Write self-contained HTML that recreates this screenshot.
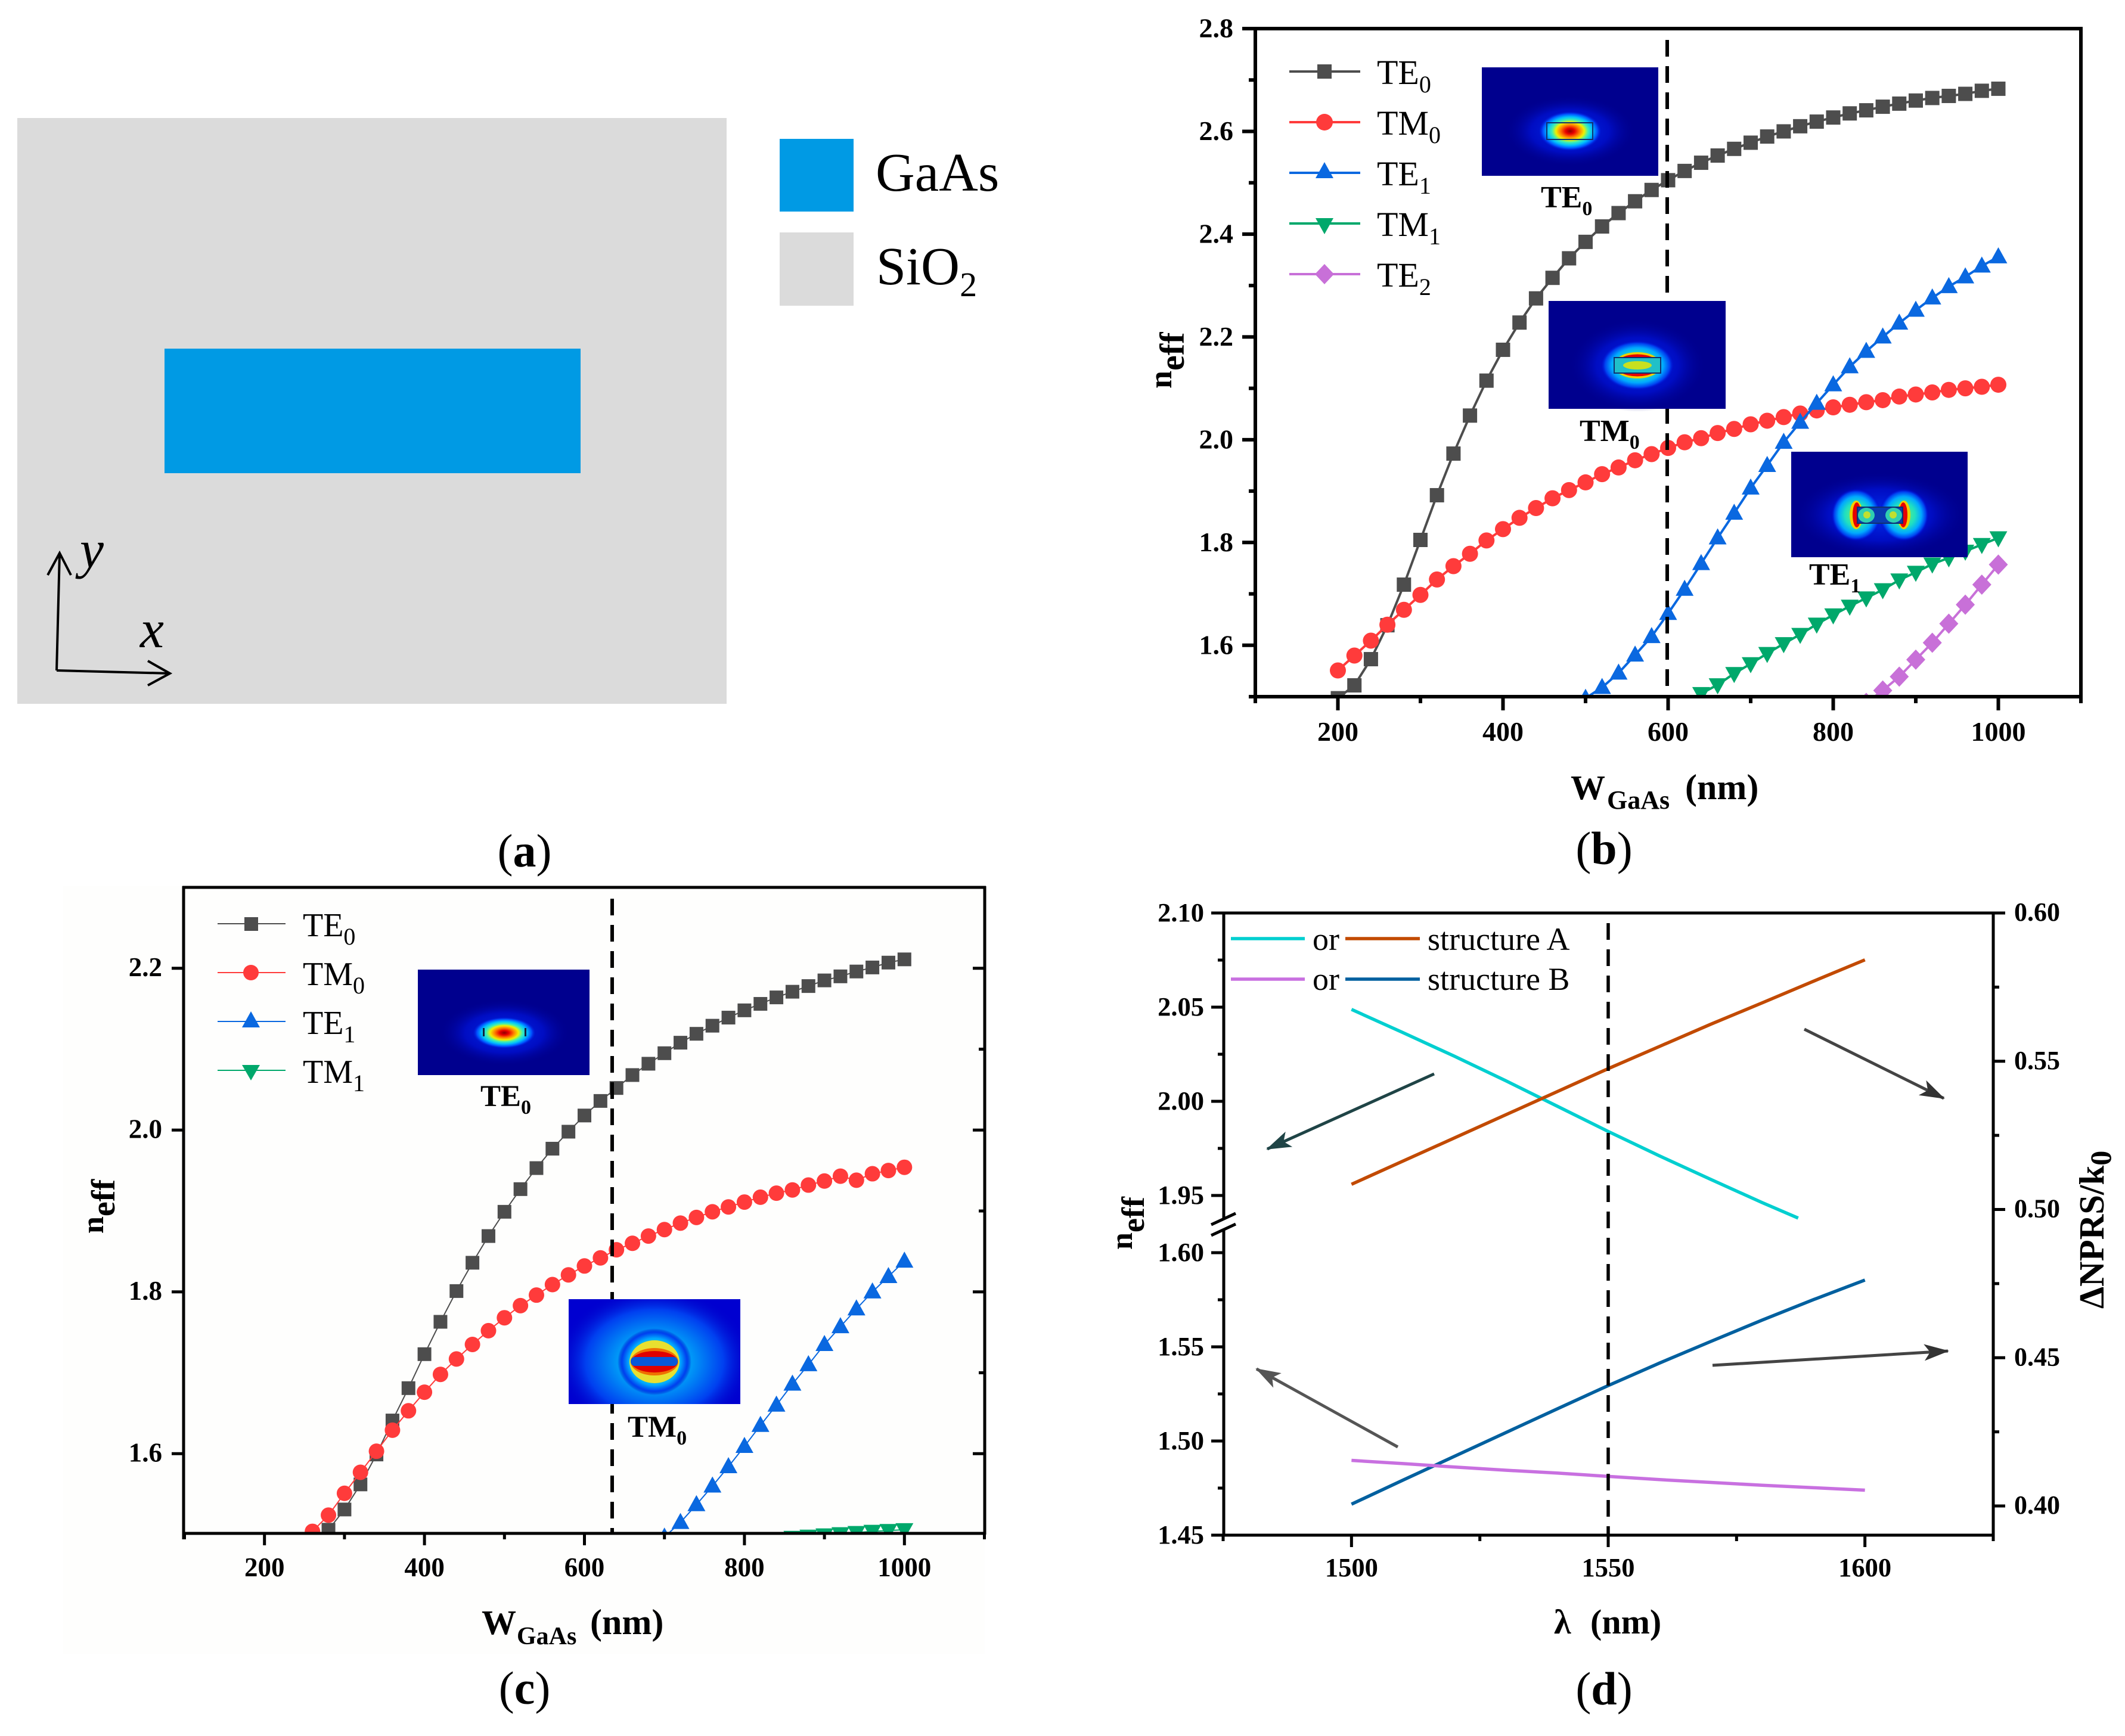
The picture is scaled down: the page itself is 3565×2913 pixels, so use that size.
<!DOCTYPE html>
<html lang="en">
<head>
<meta charset="utf-8">
<title>GaAs waveguide structure and effective index charts</title>
<style>
html,body{margin:0;padding:0;background:#fff}
svg{display:block}
text{font-family:"Liberation Serif","DejaVu Serif",serif;fill:#000}
.b{font-weight:bold}
</style>
</head>
<body>
<svg id="figure" xmlns="http://www.w3.org/2000/svg" width="3565" height="2913" viewBox="0 0 3565 2913">
<defs>
<radialGradient id="jet"><stop offset="0" stop-color="#8b0000"/><stop offset=".14" stop-color="#e80000"/><stop offset=".3" stop-color="#ff8000"/><stop offset=".44" stop-color="#f0f000"/><stop offset=".56" stop-color="#40f0b0"/><stop offset=".7" stop-color="#00c0ff"/><stop offset=".85" stop-color="#0050ff"/><stop offset="1" stop-color="#0000c0" stop-opacity="0"/></radialGradient>
<radialGradient id="soft"><stop offset="0" stop-color="#70f070"/><stop offset=".45" stop-color="#20e0c0"/><stop offset=".7" stop-color="#00a8ff"/><stop offset=".88" stop-color="#0040f0"/><stop offset="1" stop-color="#0000c8" stop-opacity="0"/></radialGradient>
<radialGradient id="halo"><stop offset="0" stop-color="#0030f0"/><stop offset=".6" stop-color="#0010d0" stop-opacity=".8"/><stop offset="1" stop-color="#000090" stop-opacity="0"/></radialGradient>
<radialGradient id="haloWide"><stop offset="0" stop-color="#00d0c0"/><stop offset=".35" stop-color="#00a0f8"/><stop offset=".7" stop-color="#0040f0"/><stop offset="1" stop-color="#0000c8" stop-opacity="0"/></radialGradient>
<marker id="headDark" markerUnits="userSpaceOnUse" markerWidth="44" markerHeight="30" refX="40" refY="15" orient="auto"><path d="M0,1 L42,15 L0,29 L10,15 Z" fill="#333"/></marker>
<marker id="headTeal" markerUnits="userSpaceOnUse" markerWidth="44" markerHeight="30" refX="40" refY="15" orient="auto"><path d="M0,1 L42,15 L0,29 L10,15 Z" fill="#1f4446"/></marker>
<marker id="headGrey" markerUnits="userSpaceOnUse" markerWidth="44" markerHeight="30" refX="40" refY="15" orient="auto"><path d="M0,1 L42,15 L0,29 L10,15 Z" fill="#555"/></marker>
<clipPath id="clipB"><rect x="2106" y="48" width="1385" height="1121"/></clipPath>
<clipPath id="clipC"><rect x="308" y="1489" width="1344" height="1084"/></clipPath>
<clipPath id="insetCT"><rect x="954" y="2180" width="288" height="176"/></clipPath>
</defs>

<!-- Panel a -->
<g>
<rect x="29" y="198" width="1190" height="983" fill="#dbdbdb"/>
<rect x="276" y="585" width="698" height="209" fill="#009ae4"/>
<rect x="1308" y="233" width="124" height="122" fill="#009ae4"/>
<rect x="1308" y="390" width="124" height="123" fill="#dbdbdb"/>
<text x="1469" y="320" font-size="91">GaAs</text>
<text x="1470" y="477" font-size="90">SiO<tspan font-size="58" dy="20">2</tspan></text>
<g fill="none" stroke="#000" stroke-width="4">
<path d="M95,1125 L100,928 M80,965 L100,928 L119,965"/>
<path d="M95,1125 L285,1130 M248,1109 L285,1130 L248,1150"/>
</g>
<text x="134" y="952" font-size="90" font-style="italic">y</text>
<text x="235" y="1086" font-size="90" font-style="italic">x</text>
<text x="880" y="1454" font-size="78" text-anchor="middle">(<tspan class="b">a</tspan>)</text>
</g>

<!-- Panel c background -->
<rect x="106" y="1487" width="1546" height="1288" fill="#fefefd"/>

<!-- Panel b -->
<g>
<g id="b-series" clip-path="url(#clipB)"></g>
<line x1="2797" y1="67" x2="2797" y2="1169" stroke="#000" stroke-width="6" stroke-dasharray="28 16"/>
<g id="b-axes"></g>

<g>
<g><line x1="2163" y1="120" x2="2282" y2="120" stroke="#4d4d4d" stroke-width="4"/><rect x="2210" y="108" width="24" height="24" fill="#4d4d4d"/><text x="2310" y="141" font-size="58">TE<tspan font-size="40" dy="14">0</tspan></text></g>
<g><line x1="2163" y1="205" x2="2282" y2="205" stroke="#ff3b3b" stroke-width="4"/><circle cx="2222" cy="205" r="14" fill="#ff3b3b"/><text x="2310" y="226" font-size="58">TM<tspan font-size="40" dy="14">0</tspan></text></g>
<g><line x1="2163" y1="290" x2="2282" y2="290" stroke="#0a68e0" stroke-width="4"/><polygon points="2222,272 2207,299 2237,299" fill="#0a68e0"/><text x="2310" y="311" font-size="58">TE<tspan font-size="40" dy="14">1</tspan></text></g>
<g><line x1="2163" y1="375" x2="2282" y2="375" stroke="#00a86b" stroke-width="4"/><polygon points="2222,393 2207,366 2237,366" fill="#00a86b"/><text x="2310" y="396" font-size="58">TM<tspan font-size="40" dy="14">1</tspan></text></g>
<g><line x1="2163" y1="460" x2="2282" y2="460" stroke="#c870d8" stroke-width="4"/><polygon points="2222,443 2238,460 2222,477 2206,460" fill="#c870d8"/><text x="2310" y="481" font-size="58">TE<tspan font-size="40" dy="14">2</tspan></text></g>
</g>

<g>
<rect x="2486" y="113" width="296" height="182" fill="#00008e"/>
<ellipse cx="2634" cy="220" rx="110" ry="60" fill="url(#halo)"/>
<ellipse cx="2634" cy="220" rx="54" ry="34" fill="url(#jet)"/>
<rect x="2595" y="206" width="77" height="28" fill="none" stroke="#103070" stroke-width="2"/>
<text class="b" x="2585" y="348" font-size="52">TE<tspan font-size="34" dy="13">0</tspan></text>
</g>
<g>
<rect x="2598" y="505" width="297" height="181" fill="#00008e"/>
<ellipse cx="2747" cy="613" rx="115" ry="78" fill="url(#halo)"/>
<ellipse cx="2747" cy="613" rx="62" ry="42" fill="url(#soft)"/>
<ellipse cx="2747" cy="613" rx="40" ry="22" fill="#f0d000"/>
<ellipse cx="2747" cy="613" rx="37" ry="18.5" fill="#e80000"/>
<rect x="2708" y="600" width="78" height="26" fill="#20c0c8" stroke="#103070" stroke-width="2"/>
<ellipse cx="2747" cy="613" rx="24" ry="7" fill="#c8e020"/>
<text class="b" x="2650" y="740" font-size="52">TM<tspan font-size="34" dy="13">0</tspan></text>
</g>
<g>
<rect x="3005" y="758" width="296" height="177" fill="#00008e"/>
<ellipse cx="3154" cy="864" rx="145" ry="72" fill="url(#halo)"/>
<ellipse cx="3114" cy="864" rx="42" ry="44" fill="url(#soft)"/>
<ellipse cx="3194" cy="864" rx="42" ry="44" fill="url(#soft)"/>
<ellipse cx="3114" cy="864" rx="11" ry="24" fill="#f0d000"/>
<ellipse cx="3194" cy="864" rx="11" ry="24" fill="#f0d000"/>
<ellipse cx="3115" cy="864" rx="7" ry="21" fill="#e80000"/>
<ellipse cx="3193" cy="864" rx="7" ry="21" fill="#e80000"/>
<rect x="3116" y="851" width="76" height="27" fill="#0a3cb0" stroke="#103070" stroke-width="2"/>
<ellipse cx="3131" cy="864.5" rx="14" ry="12.5" fill="#30d0b0"/><ellipse cx="3177" cy="864.5" rx="14" ry="12.5" fill="#30d0b0"/>
<circle cx="3132" cy="864" r="6" fill="#c0e030"/><circle cx="3176" cy="864" r="6" fill="#c0e030"/>
<text class="b" x="3035" y="981" font-size="52">TE<tspan font-size="34" dy="13">1</tspan></text>
</g>

<text class="b" transform="translate(1965,652) rotate(-90)" font-size="54">n<tspan font-size="58" dy="21">eff</tspan></text>
<text class="b" y="1341" font-size="58"><tspan x="2635">W</tspan><tspan x="2696" y="1357" font-size="44">GaAs</tspan><tspan x="2827" y="1341" font-size="60">(nm)</tspan></text>
<text x="2691" y="1450" font-size="78" text-anchor="middle">(<tspan class="b">b</tspan>)</text>
</g>

<!-- Panel c -->
<g>
<g id="c-series" clip-path="url(#clipC)"></g>
<line x1="1027" y1="1508" x2="1027" y2="2573" stroke="#000" stroke-width="6" stroke-dasharray="28 16"/>
<g id="c-axes"></g>

<g>
<g><line x1="365" y1="1550" x2="479" y2="1550" stroke="#4d4d4d" stroke-width="2"/><rect x="410" y="1539" width="23" height="23" fill="#4d4d4d"/><text x="508" y="1571" font-size="56">TE<tspan font-size="40" dy="14">0</tspan></text></g>
<g><line x1="365" y1="1632" x2="479" y2="1632" stroke="#ff3b3b" stroke-width="2"/><circle cx="421" cy="1632" r="13" fill="#ff3b3b"/><text x="508" y="1653" font-size="56">TM<tspan font-size="40" dy="14">0</tspan></text></g>
<g><line x1="365" y1="1714" x2="479" y2="1714" stroke="#0a68e0" stroke-width="2"/><polygon points="421,1697 406,1724 436,1724" fill="#0a68e0"/><text x="508" y="1735" font-size="56">TE<tspan font-size="40" dy="14">1</tspan></text></g>
<g><line x1="365" y1="1796" x2="479" y2="1796" stroke="#00a86b" stroke-width="2"/><polygon points="421,1813 406,1787 436,1787" fill="#00a86b"/><text x="508" y="1817" font-size="56">TM<tspan font-size="40" dy="14">1</tspan></text></g>
</g>

<g>
<rect x="701" y="1627" width="288" height="177" fill="#00008e"/>
<ellipse cx="846" cy="1733" rx="110" ry="56" fill="url(#halo)"/>
<ellipse cx="846" cy="1733" rx="54" ry="27" fill="url(#jet)"/>
<rect x="810" y="1725" width="3" height="14" fill="#102040"/><rect x="880" y="1725" width="3" height="14" fill="#102040"/>
<text class="b" x="806" y="1856" font-size="51">TE<tspan font-size="34" dy="13">0</tspan></text>
</g>
<g>
<g clip-path="url(#insetCT)">
<rect x="954" y="2180" width="288" height="176" fill="#0000d0"/>
<ellipse cx="1098" cy="2285" rx="165" ry="125" fill="url(#haloWide)"/>
<ellipse cx="1098" cy="2285" rx="62" ry="56" fill="url(#soft)"/>
<ellipse cx="1098" cy="2285" rx="42" ry="36" fill="#e8e030"/>
<ellipse cx="1098" cy="2285" rx="40" ry="23" fill="#f07000"/>
<ellipse cx="1098" cy="2285" rx="39" ry="18" fill="#e00000"/>
<rect x="1058" y="2277" width="79" height="15" rx="7" fill="#0858d8"/>
</g>
<text class="b" x="1053" y="2411" font-size="51">TM<tspan font-size="34" dy="13">0</tspan></text>
</g>

<text class="b" transform="translate(173,2070) rotate(-90)" font-size="52">n<tspan font-size="56" dy="19">eff</tspan></text>
<text class="b" y="2742" font-size="58"><tspan x="808">W</tspan><tspan x="867" y="2759" font-size="42">GaAs</tspan><tspan x="990" y="2742" font-size="60">(nm)</tspan></text>
<text x="880" y="2859" font-size="78" text-anchor="middle">(<tspan class="b">c</tspan>)</text>
</g>

<!-- Panel d -->
<g>
<g id="d-series"></g>
<line x1="2698" y1="1549" x2="2698" y2="2576" stroke="#000" stroke-width="5.5" stroke-dasharray="28 16"/>
<g id="d-axes"></g>

<g>
<g>
<line x1="2065" y1="1575" x2="2189" y2="1575" stroke="#00cfd0" stroke-width="5.5"/>
<text x="2202" y="1594" font-size="54">or</text>
<line x1="2257" y1="1575" x2="2382" y2="1575" stroke="#c24a00" stroke-width="5.5"/>
<text x="2395" y="1594" font-size="54">structure A</text>
</g>
<g>
<line x1="2065" y1="1643" x2="2189" y2="1643" stroke="#c870e0" stroke-width="5.5"/>
<text x="2202" y="1661" font-size="54">or</text>
<line x1="2257" y1="1643" x2="2382" y2="1643" stroke="#00609f" stroke-width="5.5"/>
<text x="2395" y="1661" font-size="54">structure B</text>
</g>
</g>

<line x1="2406" y1="1802" x2="2126" y2="1928" stroke="#1f4446" stroke-width="5" marker-end="url(#headTeal)"/>
<line x1="3027" y1="1727" x2="3261" y2="1843" stroke="#444" stroke-width="5" marker-end="url(#headDark)"/>
<line x1="2345" y1="2428" x2="2108" y2="2297" stroke="#555" stroke-width="5" marker-end="url(#headGrey)"/>
<line x1="2873" y1="2291" x2="3268" y2="2267" stroke="#444" stroke-width="5" marker-end="url(#headDark)"/>

<text class="b" transform="translate(1899,2097) rotate(-90)" font-size="52">n<tspan font-size="54" dy="20">eff</tspan></text>
<text class="b" transform="translate(3529,2196) rotate(-90)" font-size="59">ΔNPRS/k<tspan font-size="50" dy="12">0</tspan></text>
<text class="b" y="2741" font-size="58"><tspan x="2607">λ</tspan><tspan x="2668">(nm)</tspan></text>
<text x="2691" y="2860" font-size="78" text-anchor="middle">(<tspan class="b">d</tspan>)</text>
</g>
</svg>

<script>
// ---------- Panel b data ----------
const bTe0Widths = [200,220,240,260,280,300,320,340,360,380,400,420,440,460,480,500,520,540,560,580,600,620,640,660,680,700,720,740,760,780,800,820,840,860,880,900,920,940,960,980,1000];
const bTe0Values = [1.497,1.522,1.573,1.639,1.718,1.805,1.892,1.973,2.047,2.115,2.175,2.228,2.275,2.315,2.353,2.385,2.415,2.441,2.464,2.486,2.505,2.523,2.539,2.553,2.566,2.578,2.59,2.6,2.61,2.619,2.627,2.635,2.641,2.648,2.654,2.66,2.665,2.669,2.673,2.679,2.683];
const bTm0Widths = [200,220,240,260,280,300,320,340,360,380,400,420,440,460,480,500,520,540,560,580,600,620,640,660,680,700,720,740,760,780,800,820,840,860,880,900,920,940,960,980,1000];
const bTm0Values = [1.551,1.58,1.609,1.64,1.669,1.698,1.728,1.754,1.778,1.804,1.826,1.848,1.867,1.886,1.902,1.917,1.933,1.946,1.96,1.972,1.984,1.995,2.003,2.013,2.021,2.03,2.037,2.044,2.051,2.057,2.063,2.068,2.073,2.077,2.084,2.088,2.092,2.097,2.1,2.103,2.107];
const bTe1Widths = [500,520,540,560,580,600,620,640,660,680,700,720,740,760,780,800,820,840,860,880,900,920,940,960,980,1000];
const bTe1Values = [1.497,1.518,1.546,1.581,1.617,1.662,1.709,1.759,1.809,1.857,1.906,1.95,1.995,2.034,2.071,2.107,2.142,2.172,2.2,2.227,2.252,2.276,2.298,2.317,2.338,2.356];
const bTm1Widths = [640,660,680,700,720,740,760,780,800,820,840,860,880,900,920,940,960,980,1000];
const bTm1Values = [1.506,1.523,1.545,1.564,1.584,1.603,1.621,1.641,1.659,1.676,1.692,1.708,1.727,1.742,1.758,1.77,1.783,1.796,1.809];
const bTe2Widths = [840,860,880,900,920,940,960,980,1000];
const bTe2Values = [1.488,1.512,1.539,1.572,1.605,1.642,1.679,1.718,1.757];
const bXMajorTicks = ["200","400","600","800","1000"];
const bXMinorTicks = [100,300,500,700,900,1100];
const bYMajorTicks = ["1.6","1.8","2.0","2.2","2.4","2.6","2.8"];
const bYMinorTicks = [1.5,1.7,1.9,2.1,2.3,2.5,2.7];

// ---------- Panel c data ----------
const cTe0Widths = [280,300,320,340,360,380,400,420,440,460,480,500,520,540,560,580,600,620,640,660,680,700,720,740,760,780,800,820,840,860,880,900,920,940,960,980,1000];
const cTe0Values = [1.506,1.531,1.562,1.599,1.641,1.681,1.723,1.763,1.801,1.836,1.869,1.899,1.927,1.953,1.977,1.998,2.018,2.036,2.052,2.068,2.082,2.095,2.108,2.119,2.129,2.139,2.148,2.156,2.164,2.171,2.178,2.185,2.19,2.196,2.201,2.207,2.211];
const cTm0Widths = [240,260,280,300,320,340,360,380,400,420,440,460,480,500,520,540,560,580,600,620,640,660,680,700,720,740,760,780,800,820,840,860,880,900,920,940,960,980,1000];
const cTm0Values = [1.493,1.504,1.524,1.551,1.577,1.603,1.629,1.653,1.676,1.698,1.717,1.735,1.752,1.768,1.783,1.796,1.809,1.821,1.832,1.842,1.852,1.86,1.869,1.877,1.885,1.892,1.899,1.905,1.911,1.917,1.922,1.926,1.932,1.937,1.943,1.938,1.946,1.95,1.954];
const cTe1Widths = [700,720,740,760,780,800,820,840,860,880,900,920,940,960,980,1000];
const cTe1Values = [1.497,1.515,1.537,1.56,1.584,1.609,1.635,1.66,1.686,1.71,1.735,1.757,1.779,1.8,1.819,1.838];
const cTm1Widths = [780,800,820,840,860,880,900,920,940,960,980,1000];
const cTm1Values = [1.49,1.492,1.4935,1.495,1.4965,1.498,1.4995,1.501,1.5025,1.504,1.505,1.506];
const cXMajorTicks = ["200","400","600","800","1000"];
const cXMinorTicks = [100,300,500,700,900,1100];
const cYMajorTicks = ["1.6","1.8","2.0","2.2"];
const cYRightMinorTicks = [1.7,1.9,2.1];

// ---------- Panel d data ----------
const dCyanWavelengths = [1500,1510,1520,1530,1540,1550,1560,1570,1580,1587];
const dCyanValues = [2.0488,2.0365,2.024,2.011,1.9975,1.984,1.971,1.9585,1.9462,1.938];
const dPurpleWavelengths = [1500,1510,1520,1530,1540,1550,1560,1570,1580,1590,1600];
const dPurpleValues = [1.4897,1.488,1.4862,1.4845,1.483,1.4812,1.4795,1.478,1.4765,1.4752,1.4739];
const dOrangeWavelengths = [1500,1510,1520,1530,1540,1550,1560,1570,1580,1590,1600];
const dOrangeValues = [0.5085,0.5163,0.5241,0.5319,0.5397,0.5475,0.555,0.5625,0.5697,0.577,0.5842];
const dBlueWavelengths = [1500,1510,1520,1530,1540,1550,1560,1570,1580,1590,1600];
const dBlueValues = [0.4006,0.4087,0.4167,0.4247,0.4327,0.4406,0.4482,0.4555,0.4627,0.4696,0.4762];
const dXMajorTicks = ["1500","1550","1600"];
const dXMinorTicks = [1475,1525,1575,1625];
const dLeftMajorTicks = ["2.10","2.05","2.00","1.95","1.60","1.55","1.50","1.45"];
const dLeftMinorTicks = [2.075,2.025,1.975,1.575,1.525,1.475];
const dRightMajorTicks = ["0.60","0.55","0.50","0.45","0.40"];
const dRightMinorTicks = [0.575,0.525,0.475,0.425];

const NS = "http://www.w3.org/2000/svg";
function make(tag, parent, props) {
  const node = document.createElementNS(NS, tag);
  for (const k in props) node.setAttribute(k, props[k]);
  parent.appendChild(node);
  return node;
}
function scale(d0, d1, r0, r1) {
  return function (v) { return r0 + (v - d0) / (d1 - d0) * (r1 - r0); };
}
function drawMarker(shape, parent, x, y, size, color) {
  const s = size / 2;
  if (shape === "square") return make("rect", parent, {x: x - s, y: y - s, width: size, height: size, fill: color});
  if (shape === "circle") return make("circle", parent, {cx: x, cy: y, r: s + 1.5, fill: color});
  let pts;
  if (shape === "up") pts = [[x, y - s - 4], [x - s - 3, y + s - 1], [x + s + 3, y + s - 1]];
  else if (shape === "down") pts = [[x, y + s + 4], [x - s - 3, y - s + 1], [x + s + 3, y - s + 1]];
  else pts = [[x, y - s - 5], [x + s + 4, y], [x, y + s + 5], [x - s - 4, y]];
  return make("polygon", parent, {points: pts.map(function (p) { return p.join(","); }).join(" "), fill: color});
}
function drawSeries(parent, name, xs, ys, xScale, yScale, color, lineWidth, shape, size) {
  const pts = xs.map(function (v, i) { return xScale(v) + "," + yScale(ys[i]); }).join(" ");
  const line = make("polyline", parent, {points: pts, fill: "none", stroke: color, "stroke-width": lineWidth, "stroke-linejoin": "round"});
  
  
  if (!shape) return;
  xs.forEach(function (v, i) {
    const m = drawMarker(shape, parent, xScale(v), yScale(ys[i]), size, color);
    
    
  });
}
function tickLine(parent, x1, y1, x2, y2, w) {
  const t = make("line", parent, {x1: x1, y1: y1, x2: x2, y2: y2, stroke: "#000", "stroke-width": w});
  
  
}
function tickText(parent, x, y, str, anchor, size) {
  const t = make("text", parent, {x: x, y: y, "font-size": size, "font-weight": "bold", "text-anchor": anchor});
  t.textContent = str;
  
  
}
function axisLine(parent, x1, y1, x2, y2, w) {
  const a = make("line", parent, {x1: x1, y1: y1, x2: x2, y2: y2, stroke: "#000", "stroke-width": w});
  
  
}

// ---------- Panel b ----------
const bX = scale(100, 1100, 2106, 3491);
const bY = scale(1.5, 2.8, 1169, 48);
const bSeries = document.getElementById("b-series");
drawSeries(bSeries, "te0", bTe0Widths, bTe0Values, bX, bY, "#4d4d4d", 4, "square", 24);
drawSeries(bSeries, "tm0", bTm0Widths, bTm0Values, bX, bY, "#ff3b3b", 4, "circle", 24);
drawSeries(bSeries, "te1", bTe1Widths, bTe1Values, bX, bY, "#0a68e0", 4, "up", 24);
drawSeries(bSeries, "tm1", bTm1Widths, bTm1Values, bX, bY, "#00a86b", 4, "down", 24);
drawSeries(bSeries, "te2", bTe2Widths, bTe2Values, bX, bY, "#c870d8", 4, "diamond", 24);
const bAxes = document.getElementById("b-axes");
axisLine(bAxes, 2103, 48, 3494, 48, 6);
axisLine(bAxes, 3491, 45, 3491, 1172, 6);
axisLine(bAxes, 2106, 45, 2106, 1172, 6);
axisLine(bAxes, 2095, 1169, 3494, 1169, 6);
bXMajorTicks.forEach(function (t) {
  tickLine(bAxes, bX(+t), 1169, bX(+t), 1192, 6);
  tickText(bAxes, bX(+t), 1243, t, "middle", 46);
});
bXMinorTicks.forEach(function (v) { tickLine(bAxes, bX(v), 1169, bX(v), 1180, 6); });
bYMajorTicks.forEach(function (t) {
  tickLine(bAxes, 2084, bY(+t), 2106, bY(+t), 6);
  tickText(bAxes, 2069, bY(+t) + 14.5, t, "end", 46);
});
bYMinorTicks.forEach(function (v) { tickLine(bAxes, 2095, bY(v), 2106, bY(v), 6); });

// ---------- Panel c ----------
const cX = scale(100, 1100, 309.5, 1651.5);
const cY = scale(1.5, 2.3, 2575, 1489);
const cSeries = document.getElementById("c-series");
drawSeries(cSeries, "te0", cTe0Widths, cTe0Values, cX, cY, "#4d4d4d", 2, "square", 23);
drawSeries(cSeries, "tm0", cTm0Widths, cTm0Values, cX, cY, "#ff3b3b", 2, "circle", 23);
drawSeries(cSeries, "te1", cTe1Widths, cTe1Values, cX, cY, "#0a68e0", 2, "up", 24);
drawSeries(cSeries, "tm1", cTm1Widths, cTm1Values, cX, cY, "#00a86b", 2, "down", 24);
const cAxes = document.getElementById("c-axes");
axisLine(cAxes, 306, 1489, 1654, 1489, 5);
axisLine(cAxes, 1652, 1487, 1652, 2575, 5);
axisLine(cAxes, 308, 1487, 308, 2583, 5);
axisLine(cAxes, 306, 2573, 1654, 2573, 5);
cXMajorTicks.forEach(function (t) {
  tickLine(cAxes, cX(+t), 2573, cX(+t), 2593, 5);
  tickText(cAxes, cX(+t), 2645, t, "middle", 45);
});
cXMinorTicks.forEach(function (v) { tickLine(cAxes, cX(v), 2573, cX(v), 2583, 5); });
cYMajorTicks.forEach(function (t) {
  tickLine(cAxes, 288, cY(+t), 308, cY(+t), 5);
  tickLine(cAxes, 1632, cY(+t), 1652, cY(+t), 5);
  tickText(cAxes, 272, cY(+t) + 13, t, "end", 45);
});
cYRightMinorTicks.forEach(function (v) { tickLine(cAxes, 1642, cY(v), 1652, cY(v), 5); });

// ---------- Panel d ----------
const dX = scale(1475, 1625, 2052, 3344);
const dLeftUpper = scale(1.95, 2.10, 2006, 1532);
const dLeftLower = scale(1.45, 1.60, 2576, 2102);
function dLeft(v) { return v > 1.8 ? dLeftUpper(v) : dLeftLower(v); }
const dRight = scale(0.40, 0.60, 2527, 1532);
const dSeries = document.getElementById("d-series");
drawSeries(dSeries, "cyan", dCyanWavelengths, dCyanValues, dX, dLeft, "#00cfd0", 5.5);
drawSeries(dSeries, "orange", dOrangeWavelengths, dOrangeValues, dX, dRight, "#c24a00", 5.5);
drawSeries(dSeries, "blue", dBlueWavelengths, dBlueValues, dX, dRight, "#00609f", 5.5);
drawSeries(dSeries, "purple", dPurpleWavelengths, dPurpleValues, dX, dLeft, "#c870e0", 5.5);
const dAxes = document.getElementById("d-axes");
axisLine(dAxes, 2052, 1532, 3364, 1532, 5);
axisLine(dAxes, 2053, 1530, 2053, 2045, 5);
axisLine(dAxes, 2053, 2063, 2053, 2578, 5);
axisLine(dAxes, 3344, 1532, 3344, 2586, 5);
axisLine(dAxes, 2032, 2576, 3346, 2576, 5);
axisLine(dAxes, 2032, 2055, 2073, 2036, 5);
axisLine(dAxes, 2032, 2073, 2073, 2054, 5);
dXMajorTicks.forEach(function (t) {
  tickLine(dAxes, dX(+t), 2576, dX(+t), 2596, 5);
  tickText(dAxes, dX(+t), 2645, t, "middle", 44.5);
});
dXMinorTicks.forEach(function (v) { tickLine(dAxes, dX(v), 2576, dX(v), 2586, 5); });
dLeftMajorTicks.forEach(function (t) {
  tickLine(dAxes, 2032, dLeft(+t), 2053, dLeft(+t), 5);
  tickText(dAxes, 2020, dLeft(+t) + 14, t, "end", 44.5);
});
dLeftMinorTicks.forEach(function (v) { tickLine(dAxes, 2043, dLeft(v), 2053, dLeft(v), 5); });
dRightMajorTicks.forEach(function (t) {
  tickLine(dAxes, 3344, dRight(+t), 3364, dRight(+t), 5);
  tickText(dAxes, 3379, dRight(+t) + 13, t, "start", 44);
});
dRightMinorTicks.forEach(function (v) { tickLine(dAxes, 3344, dRight(v), 3354, dRight(v), 5); });
</script>
</body>
</html>
